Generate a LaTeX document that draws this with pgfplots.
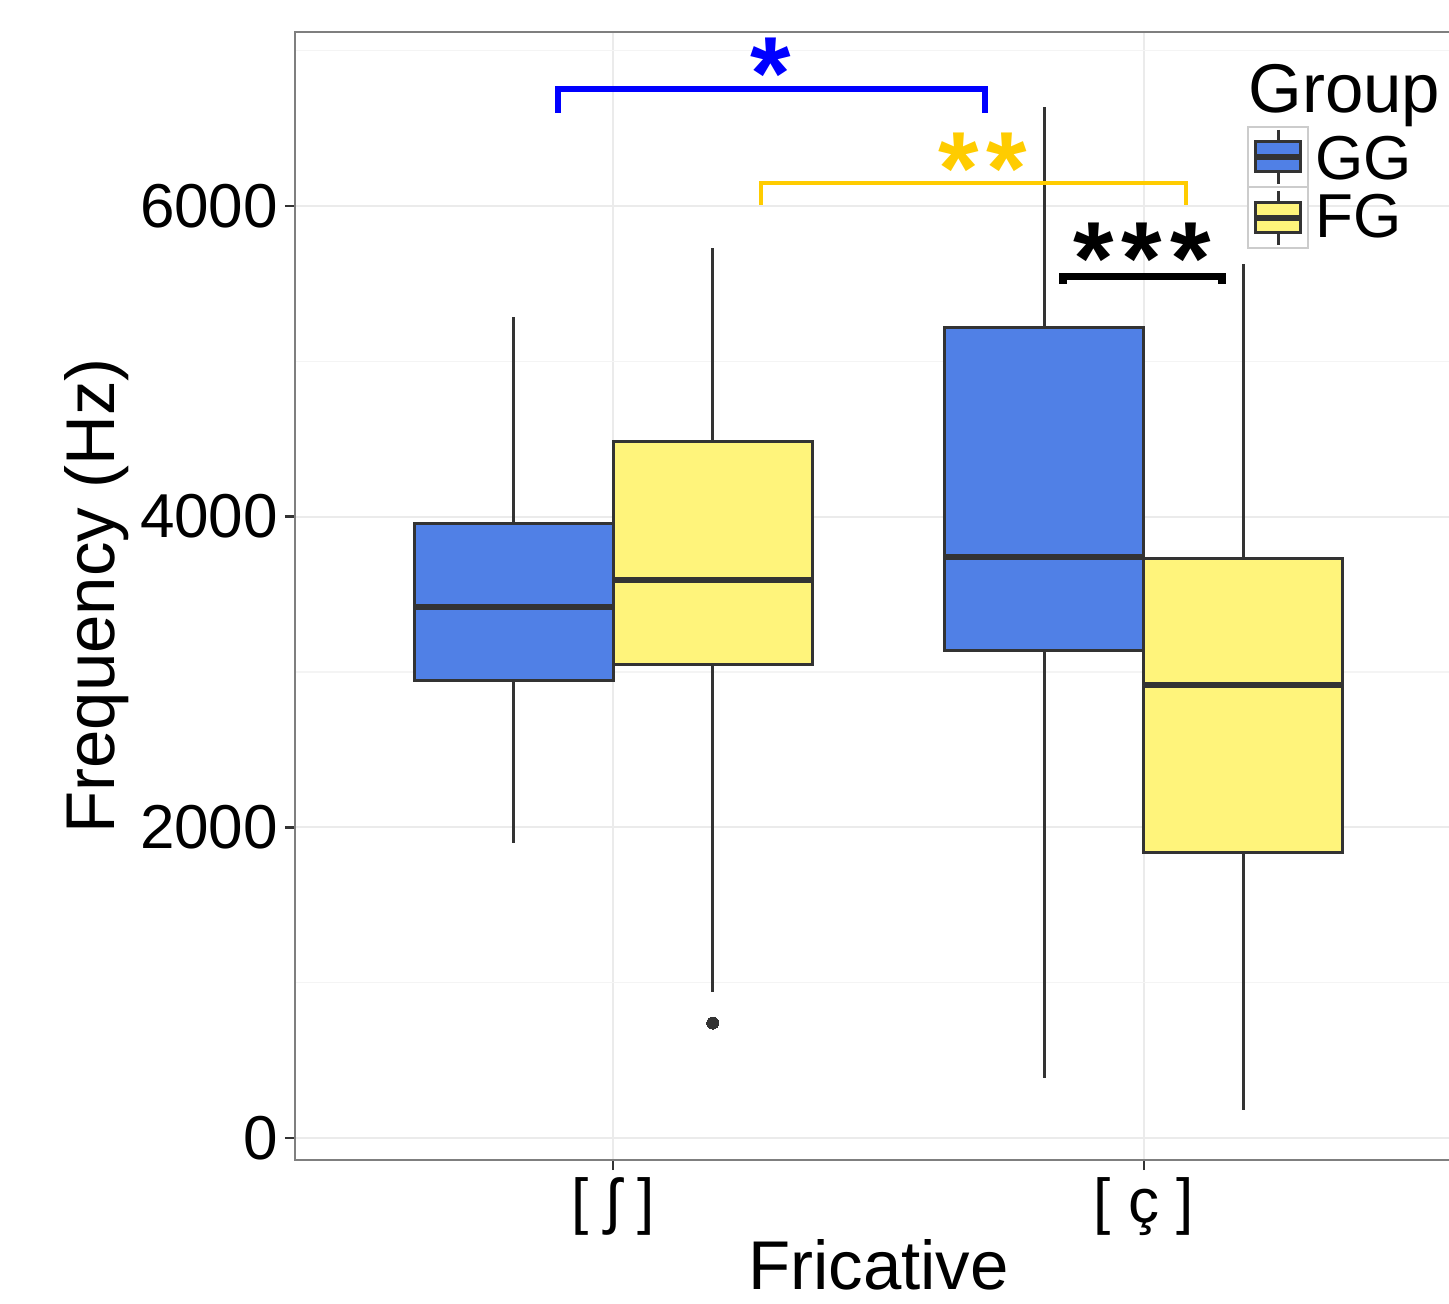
\documentclass[border=0pt]{standalone}
\usepackage{fontspec}
\setmainfont{Liberation Sans}
\usepackage{pgfplots}
\pgfplotsset{compat=1.18}
\usepgfplotslibrary{statistics}
\definecolor{ggblue}{HTML}{5080E6}
\definecolor{ggyellow}{HTML}{FFF47B}
\definecolor{gray20}{HTML}{333333}
\definecolor{gridmaj}{HTML}{EBEBEB}
\definecolor{gridmin}{HTML}{F4F4F4}
\definecolor{panelborder}{HTML}{7F7F7F}
\definecolor{starblue}{HTML}{0000FF}
\definecolor{staryellow}{HTML}{FFCC00}
\definecolor{keyborder}{HTML}{CCCCCC}
\newcommand\sg{\hspace{4pt}}
\begin{document}
\begin{tikzpicture}
\begin{axis}[
  at={(147.5pt,71.5pt)}, anchor=south west,
  scale only axis, width=583.5pt, height=564pt,
  xmin=0.4, xmax=2.6, ymin=-141.6, ymax=7120,
  xtick={1,2}, xticklabels={{[ ʃ ]},{[ ç ]}},
  ytick={0,2000,4000,6000}, yticklabels={0,2000,4000,6000},
  minor ytick={1000,3000,5000,7000},
  ymajorgrids, yminorgrids, xmajorgrids,
  major grid style={gridmaj, line width=1pt},
  minor grid style={gridmin, line width=0.8pt},
  axis line style={draw=none},
  tick align=outside, major tick length=5pt, minor tick length=0pt,
  tick pos=left,
  major tick style={gray20, line width=1.2pt},
  /pgf/number format/assume math mode=true,
  ticklabel style={font=\fontsize{31}{36}\selectfont, text=black},
  xlabel={Fricative}, ylabel={Frequency (Hz)},
  label style={font=\fontsize{34.5}{40}\selectfont},
  xlabel style={at={(axis description cs:0.5,-0.0931)}, anchor=center},
  ylabel style={at={(axis description cs:-0.1697,0.5)}, anchor=center},
  boxplot/draw direction=y,
  boxplot/whisker extend=0,
  boxplot/every median/.style={line width=3pt},
]
% [ʃ] GG
\addplot[draw=gray20, fill=ggblue, line width=1.5pt, boxplot prepared={draw position=0.8125, box extend=0.375,
  lower whisker=1899, lower quartile=2948, median=3418, upper quartile=3958, upper whisker=5284}] coordinates {};
% [ʃ] FG
\addplot[draw=gray20, fill=ggyellow, line width=1.5pt, mark=*, mark size=3pt, mark options={fill=gray20, draw=gray20, line width=0pt},
  boxplot prepared={draw position=1.1875, box extend=0.375,
  lower whisker=940, lower quartile=3051, median=3591, upper quartile=4486, upper whisker=5728}] coordinates {(0,740)};
% [ç] GG
\addplot[draw=gray20, fill=ggblue, line width=1.5pt, boxplot prepared={draw position=1.8125, box extend=0.375,
  lower whisker=386, lower quartile=3141, median=3739, upper quartile=5220, upper whisker=6636}] coordinates {};
% [ç] FG
\addplot[draw=gray20, fill=ggyellow, line width=1.5pt, boxplot prepared={draw position=2.1875, box extend=0.375,
  lower whisker=180, lower quartile=1841, median=2916, upper quartile=3733, upper whisker=5625}] coordinates {};
\end{axis}
\begin{scope}[x=0.5pt, y=-0.5pt, shift={(0,651.5pt)}]
  % panel border (right side lies outside the page)
  \draw[panelborder, line width=1pt] (1520,32) -- (295,32) -- (295,1160) -- (1520,1160);
  % significance brackets
  \draw[starblue, line width=3pt] (558,113) -- (558,89) -- (985,89) -- (985,113);
  \node[starblue, anchor=north, inner sep=0pt, font=\bfseries\fontsize{52}{54}\selectfont] at (771,38) {*};
  \draw[staryellow, line width=2.4pt] (761,205) -- (761,183) -- (1186,183) -- (1186,205);
  \node[staryellow, anchor=north, inner sep=0pt, font=\bfseries\fontsize{52}{54}\selectfont] at (983,133) {*\sg*};
  \draw[black, line width=3.6pt] (1063,284) -- (1063,276.5) -- (1222,276.5) -- (1222,284);
  \node[black, anchor=north, inner sep=0pt, font=\bfseries\fontsize{52}{54}\selectfont] at (1142,223) {*\sg*\sg*};
  % legend
  \node[anchor=base west, inner sep=0pt, font=\fontsize{34.5}{40}\selectfont] at (1248,113) {Group};
  \draw[keyborder, line width=1pt, fill=white] (1248,127) rectangle (1308,187);
  \draw[keyborder, line width=1pt, fill=white] (1248,187) rectangle (1308,248);
  \draw[gray20, line width=1.5pt] (1278,130) -- (1278,184);
  \draw[gray20, line width=1.5pt, fill=ggblue] (1255,142) rectangle (1300,172);
  \draw[gray20, line width=3pt] (1255,157) -- (1300,157);
  \draw[gray20, line width=1.5pt] (1278,191) -- (1278,245);
  \draw[gray20, line width=1.5pt, fill=ggyellow] (1255,203) rectangle (1300,233);
  \draw[gray20, line width=3pt] (1255,218) -- (1300,218);
  \node[anchor=base west, inner sep=0pt, font=\fontsize{31}{36}\selectfont] at (1315,180) {GG};
  \node[anchor=base west, inner sep=0pt, font=\fontsize{31}{36}\selectfont] at (1315,238) {FG};
\end{scope}
\pgfresetboundingbox
\useasboundingbox (0,0) rectangle (724.5pt,651.5pt);
\end{tikzpicture}
\end{document}
